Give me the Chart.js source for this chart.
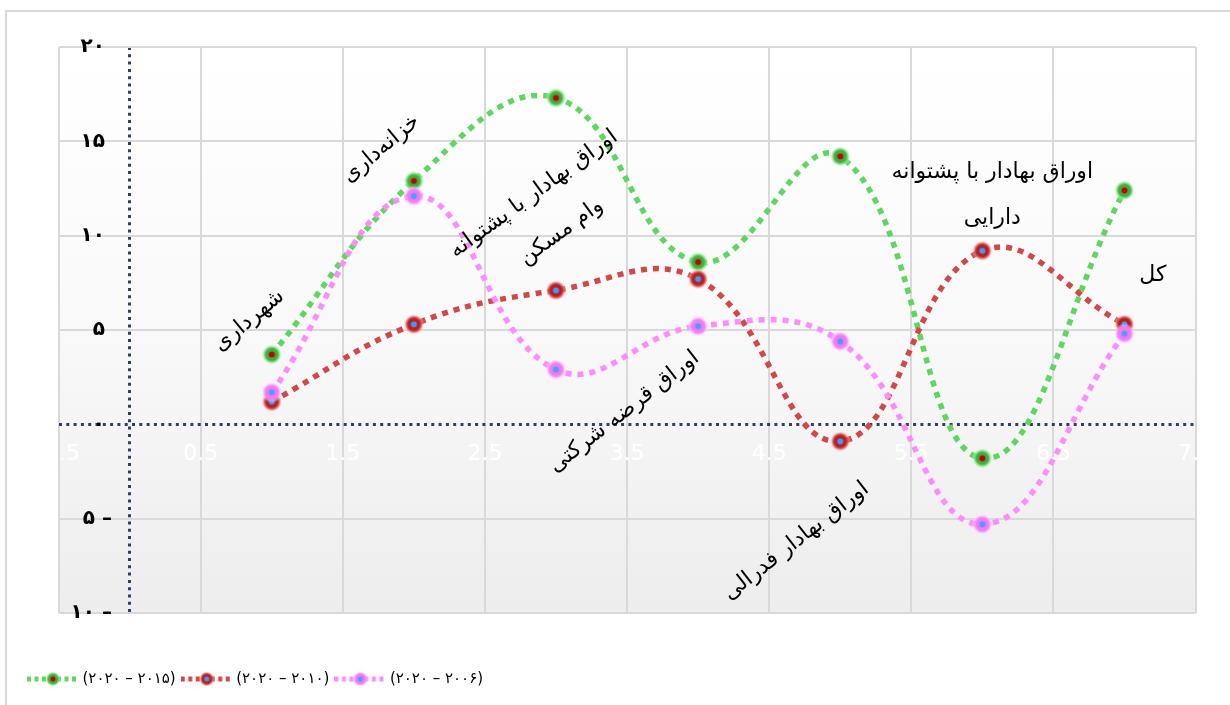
<!DOCTYPE html>
<html lang="fa">
<head>
<meta charset="utf-8">
<title>بازده اوراق بهادار</title>
<script src="https://cdn.jsdelivr.net/npm/chart.js@4.4.1/dist/chart.umd.min.js"></script>
<style>
  html, body { margin: 0; padding: 0; background: #ffffff; overflow: hidden; }
  #frame { position: absolute; left: 5px; top: 10px; width: 1400px; height: 900px;
           border-left: 2px solid #d9d9d9; border-top: 2px solid #d9d9d9; }
  #wrap { position: absolute; left: 0; top: 0; width: 1230px; height: 705px; }
</style>
</head>
<body>
<div id="frame"></div>
<div id="wrap"><canvas id="chart"></canvas></div>
<script>
// Categories (one per x position 1..7)
const categories = [
  'شهرداری',
  'خزانه‌داری',
  ['اوراق بهادار با پشتوانه', 'وام مسکن'],
  'اوراق قرضه شرکتی',
  'اوراق بهادار فدرالی',
  ['اوراق بهادار با پشتوانه', 'دارایی'],
  'کل'
];
const categoryX = [1, 2, 3, 4, 5, 6, 7];

// Series
const seriesNames = ['(۲۰۲۰ – ۲۰۱۵)', '(۲۰۲۰ – ۲۰۱۰)', '(۲۰۲۰ – ۲۰۰۶)'];
const values2015 = [3.7, 12.9, 17.3, 8.6, 14.2, -1.8, 12.4];
const values2010 = [1.2, 5.3, 7.1, 7.7, -0.9, 9.2, 5.3];
const values2006 = [1.7, 12.1, 2.9, 5.2, 4.4, -5.3, 4.8];

// Axis ticks
const yTicks = [-10, -5, 0, 5, 10, 15, 20];
const yTickLabels = ['۱۰ –', '۵ –', '۰ ', '۵ ', '۱۰ ', '۱۵ ', '۲۰ '];
const xTicks = [-0.5, 0.5, 1.5, 2.5, 3.5, 4.5, 5.5, 6.5, 7.5];
const xTickLabels = ['-0.5', '0.5', '1.5', '2.5', '3.5', '4.5', '5.5', '6.5', '7.5'];
const axisCross = 0;   // both axes cross at zero

// Where each category caption sits (data units) and its rotation
const captionPlacement = [
  { x: 0.84, y: 5.5,  angle: -40 },
  { x: 1.77, y: 14.6, angle: -40 },
  { x: 2.94, y: 11.2, angle: -36, lineGap: 47 },
  { x: 3.48, y: 0.65, angle: -38 },
  { x: 4.69, y: -6.2, angle: -38 },
  { x: 6.07, y: 12.15, angle: 0, lineGap: 46 },
  { x: 7.2,  y: 7.9,  angle: 0 }
];

const ARABIC_FONT = '"DejaVu Sans", sans-serif';

// Glowing round marker drawn once per series
function makeMarker(glow, ring, core, radius, coreRadius) {
  const size = Math.ceil(radius * 2 + 2);
  const c = document.createElement('canvas');
  c.width = size; c.height = size;
  const g = c.getContext('2d');
  const m = size / 2;
  const grad = g.createRadialGradient(m, m, 0, m, m, radius);
  grad.addColorStop(0, ring);
  grad.addColorStop(0.55, ring);
  grad.addColorStop(0.72, glow);
  grad.addColorStop(1, 'rgba(255,255,255,0)');
  g.fillStyle = grad;
  g.beginPath(); g.arc(m, m, radius, 0, Math.PI * 2); g.fill();
  g.fillStyle = core;
  g.beginPath(); g.arc(m, m, coreRadius, 0, Math.PI * 2); g.fill();
  return c;
}

// Legend symbol: short dotted stroke with the marker in the middle
function makeLegendSymbol(color, marker) {
  const c = document.createElement('canvas');
  c.width = 52; c.height = 22;
  const g = c.getContext('2d');
  g.strokeStyle = color; g.lineWidth = 5; g.setLineDash([4, 3.5]);
  g.beginPath(); g.moveTo(0, 11); g.lineTo(52, 11); g.stroke();
  g.drawImage(marker, 26 - marker.width / 2, 11 - marker.height / 2);
  return c;
}

const seriesStyle = [
  { line: '#5fd65f', glow: 'rgba(110,220,110,0.85)', ring: '#3fae3f', core: '#c40000' },
  { line: '#d24848', glow: 'rgba(220,80,80,0.85)',   ring: '#b81f1f', core: '#3b9bff' },
  { line: '#ff8cff', glow: 'rgba(255,140,255,0.85)', ring: '#f07af0', core: '#4a9dff' }
];
const pointMarkers = seriesStyle.map(s => makeMarker(s.glow, s.ring, s.core, 10.5, 3));
const legendSymbols = seriesStyle.map(s =>
  makeLegendSymbol(s.line, makeMarker(s.glow, s.ring, s.core, 8, 2.5)));

const seriesValues = [values2015, values2010, values2006];
const drawOrder = [2, 1, 0];

const datasets = seriesValues.map((vals, i) => ({
  label: seriesNames[i],
  data: categoryX.map((x, k) => ({ x, y: vals[k] })),
  borderColor: seriesStyle[i].line,
  backgroundColor: seriesStyle[i].line,
  borderWidth: 5.5,
  borderDash: [6, 6],
  borderCapStyle: 'butt',
  tension: 0.42,
  fill: false,
  pointStyle: pointMarkers[i],
  pointRadius: 10,
  order: drawOrder[i]
}));

const plotBackground = {
  id: 'plotBackground',
  beforeDraw(chart) {
    const { ctx, chartArea: a } = chart;
    const grad = ctx.createLinearGradient(0, a.top, 0, a.bottom);
    grad.addColorStop(0, '#ffffff');
    grad.addColorStop(0.5, '#f9f9f9');
    grad.addColorStop(1, '#ededed');
    ctx.save();
    ctx.fillStyle = grad;
    ctx.fillRect(a.left, a.top, a.right - a.left, a.bottom - a.top);
    ctx.restore();
  }
};

const categoryCaptions = {
  id: 'categoryCaptions',
  afterDatasetsDraw(chart) {
    const { ctx, scales } = chart;
    ctx.save();
    ctx.font = '22px ' + ARABIC_FONT;
    ctx.fillStyle = '#000000';
    ctx.textAlign = 'center';
    ctx.textBaseline = 'middle';
    ctx.direction = 'rtl';
    categories.forEach((text, i) => {
      const p = captionPlacement[i];
      const lines = Array.isArray(text) ? text : [text];
      const gap = p.lineGap || 0;
      ctx.save();
      ctx.translate(scales.x.getPixelForValue(p.x), scales.y.getPixelForValue(p.y));
      ctx.rotate(p.angle * Math.PI / 180);
      lines.forEach((ln, k) => ctx.fillText(ln, 0, (k - (lines.length - 1) / 2) * gap));
      ctx.restore();
    });
    ctx.restore();
  }
};

const gridColor = '#d9d9d9';
const axisColor = '#2e3d6b';
const isCross = c => c.tick && c.tick.value === axisCross;
const gridFor = {
  color: c => isCross(c) ? axisColor : gridColor,
  lineWidth: c => isCross(c) ? 3 : 2,
  drawTicks: false
};
const borderFor = { display: false, dash: c => isCross(c) ? [3, 4.3] : [] };

new Chart(document.getElementById('chart'), {
  type: 'line',
  data: { datasets },
  plugins: [plotBackground, categoryCaptions],
  options: {
    responsive: true,
    maintainAspectRatio: false,
    animation: false,
    events: [],
    layout: { padding: { left: 22, right: 26.6, top: 47, bottom: 8.5 } },
    scales: {
      x: {
        type: 'linear',
        position: { y: axisCross },
        min: -0.5, max: 7.5,
        afterBuildTicks: s => {
          s.ticks = xTicks.concat([axisCross]).sort((a, b) => a - b).map(v => ({ value: v }));
        },
        ticks: {
          callback: (v) => { const i = xTicks.indexOf(v); return i < 0 ? '' : xTickLabels[i]; },
          color: '#ffffff',
          font: { family: ARABIC_FONT, size: 22 },
          padding: 17,
          maxRotation: 0,
          autoSkip: false
        },
        grid: gridFor,
        border: borderFor
      },
      y: {
        type: 'linear',
        position: 'left',
        min: -10, max: 20,
        afterBuildTicks: s => { s.ticks = yTicks.map(v => ({ value: v })); },
        afterFit: s => { s.width = 36.6; },
        ticks: {
          callback: (v) => yTickLabels[yTicks.indexOf(v)],
          color: '#000000',
          font: { family: ARABIC_FONT, size: 20, weight: 'bold' },
          mirror: true,
          crossAlign: 'far',
          padding: 12
        },
        grid: gridFor,
        border: borderFor
      },
      xGap: {
        type: 'linear',
        position: 'bottom',
        ticks: { display: false },
        grid: { display: false, drawTicks: false },
        border: { display: false },
        afterFit: s => { s.height = 49.5; }
      }
    },
    plugins: {
      tooltip: { enabled: false },
      legend: {
        position: 'bottom',
        align: 'start',
        labels: {
          usePointStyle: true,
          pointStyleWidth: 44,
          padding: 9,
          color: '#000000',
          font: { family: ARABIC_FONT, size: 15 },
          sort: (a, b) => a.datasetIndex - b.datasetIndex,
          generateLabels: (chart) =>
            Chart.defaults.plugins.legend.labels.generateLabels(chart).map(item => {
              item.pointStyle = legendSymbols[item.datasetIndex];
              return item;
            })
        }
      }
    }
  }
});
</script>
</body>
</html>
